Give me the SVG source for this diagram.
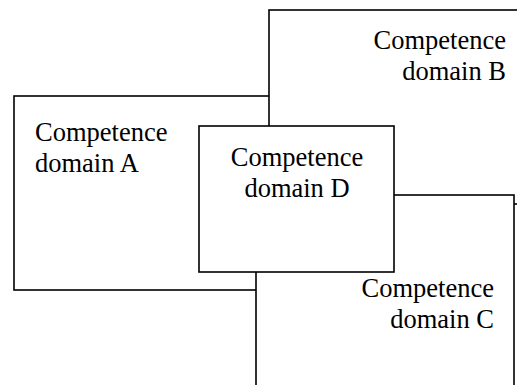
<svg xmlns="http://www.w3.org/2000/svg" width="517" height="385" viewBox="0 0 517 385">
<style>
.box{fill:#fff;stroke:#000;stroke-width:1.6}
.t{font-family:"Liberation Serif","Times New Roman",serif;font-size:26.5px;fill:#000}
.e{text-anchor:end}
.m{text-anchor:middle}
</style>
<rect width="517" height="385" fill="#fff"/>
<g id="nodeA">
<rect class="box" x="14" y="96" width="300" height="194"/>
<text class="t" x="35" y="141">Competence</text>
<text class="t" x="35" y="172">domain A</text>
</g>
<g id="nodeB">
<rect class="box" x="269" y="10" width="270" height="194"/>
<text class="t e" x="506" y="49">Competence</text>
<text class="t e" x="506" y="80">domain B</text>
</g>
<g id="nodeC">
<rect class="box" x="256" y="195" width="258" height="210"/>
<text class="t e" x="494" y="297">Competence</text>
<text class="t e" x="494" y="328">domain C</text>
</g>
<g id="nodeD">
<rect class="box" x="199" y="126" width="195" height="146"/>
<text class="t m" x="297" y="166">Competence</text>
<text class="t m" x="297" y="197">domain D</text>
</g>
<g id="connectors"></g>
</svg>
